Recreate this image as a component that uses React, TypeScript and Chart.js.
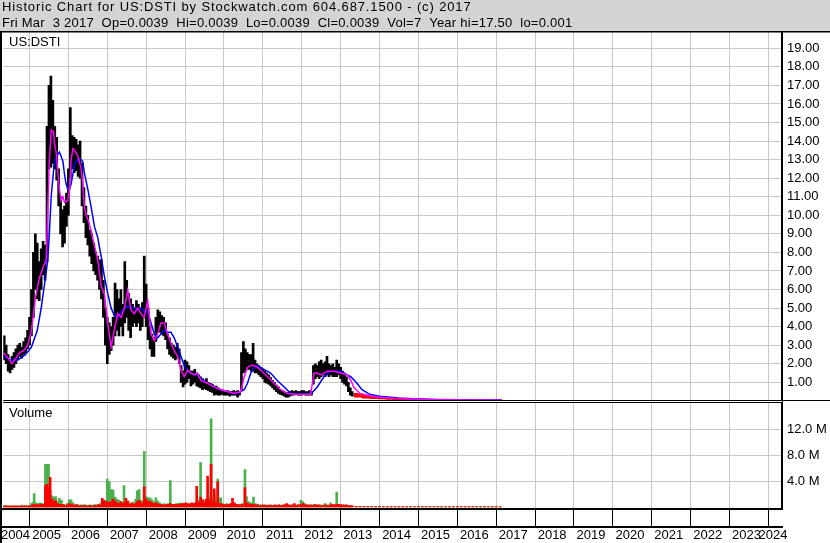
import React, { useEffect, useRef } from "react";
import { Chart, registerables } from "chart.js";

Chart.register(...registerables);

// ---------- text ----------
const headerLines = [
  "Historic Chart for US:DSTI by Stockwatch.com 604.687.1500 - (c) 2017",
  "Fri Mar  3 2017  Op=0.0039  Hi=0.0039  Lo=0.0039  Cl=0.0039  Vol=7  Year hi=17.50  lo=0.001",
];
const priceLabel = "US:DSTI";
const volumeLabel = "Volume";

// ---------- axes ----------
const xMin = 2004.325;
const xMax = 2024.351;
const yearTicks = [2005, 2006, 2007, 2008, 2009, 2010, 2011, 2012, 2013, 2014, 2015, 2016, 2017, 2018, 2019, 2020, 2021, 2022, 2023, 2024];
const yearLabels = ["2004", "2005", "2006", "2007", "2008", "2009", "2010", "2011", "2012", "2013", "2014", "2015", "2016", "2017", "2018", "2019", "2020", "2021", "2022", "2023", "2024"];
const yearLabelAt = [2004.64, 2005.44, 2006.44, 2007.44, 2008.44, 2009.44, 2010.44, 2011.44, 2012.44, 2013.44, 2014.44, 2015.44, 2016.44, 2017.44, 2018.44, 2019.44, 2020.44, 2021.44, 2022.44, 2023.44, 2024.12];
const priceTicks = [1, 2, 3, 4, 5, 6, 7, 8, 9, 10, 11, 12, 13, 14, 15, 16, 17, 18, 19];
const volumeTicks = [4, 8, 12]; // millions

// ---------- price bars (sampled every 0.05 yr from 2004.35) ----------
const priceStart = 2004.35;
const priceStep = 0.05;
const priceLow = [
  // 2004.35 - 2004.95
  2.2, 2.0, 1.6, 1.5, 1.7, 1.8, 2.0, 2.2, 2.4, 2.3, 2.5, 2.6, 2.8,
  // 2005
  3.0, 3.5, 4.5, 6.0, 5.5, 5.4, 6.0, 6.8, 6.5, 7.5, 12.5, 12.6, 12.8, 12.5, 11.9, 10.5, 9.0, 8.3, 8.5, 9.4,
  // 2006
  10.0, 12.0, 12.5, 12.3, 12.4, 12.1, 12.0, 10.5, 9.6, 8.8, 8.4, 7.8, 7.4, 7.0, 6.8, 6.5, 6.0, 5.5, 4.5, 3.0,
  // 2007
  2.0, 2.5, 2.7, 3.0, 3.5, 3.8, 3.5, 4.0, 3.5, 4.2, 4.5, 3.8, 3.4, 4.0, 4.2, 4.0, 4.2, 3.8, 4.0, 4.5,
  // 2008
  4.0, 3.3, 2.8, 2.4, 2.4, 3.2, 3.7, 3.7, 3.6, 3.5, 3.3, 2.8, 2.5, 2.4, 2.3, 2.2, 2.3, 2.0, 1.0, 0.75,
  // 2009
  0.9, 1.0, 1.2, 0.8, 0.9, 1.0, 0.8, 0.75, 0.7, 0.6, 0.65, 0.6, 0.55, 0.5, 0.45, 0.3, 0.35, 0.3, 0.3, 0.35,
  // 2010
  0.3, 0.3, 0.3, 0.25, 0.3, 0.3, 0.3, 0.2, 0.3, 0.6, 1.5, 1.6, 1.7, 1.7, 1.6, 1.6, 1.5, 1.5, 1.4, 1.3,
  // 2011
  1.2, 1.0, 0.95, 0.9, 0.8, 0.7, 0.6, 0.5, 0.4, 0.35, 0.3, 0.25, 0.2, 0.2, 0.25, 0.3, 0.3, 0.35, 0.3, 0.3,
  // 2012
  0.3, 0.35, 0.3, 0.3, 0.3, 0.3, 0.9, 1.2, 1.3, 1.2, 1.3, 1.4, 1.3, 1.4, 1.3, 1.4, 1.3, 1.3, 1.3, 1.4,
  // 2013.00 - 2013.30
  1.2, 1.0, 0.9, 0.8, 0.5, 0.3, 0.25,
];
const priceHigh = [
  3.5, 3.0, 2.5, 2.2, 2.4, 2.6, 2.8, 3.0, 3.1, 2.9, 3.2, 3.4, 3.8,
  4.5, 6.0, 8.0, 9.0, 8.5, 7.5, 8.2, 8.6, 8.4, 14.8, 17.0, 17.5, 16.2, 14.8, 14.2, 12.5, 11.0, 10.3, 10.5, 11.2,
  12.5, 15.8, 14.3, 14.2, 14.1, 13.8, 14.0, 12.8, 11.5, 10.5, 10.0, 9.2, 9.0, 8.5, 8.0, 7.8, 7.6, 7.6, 6.5, 5.0,
  4.5, 4.2, 4.0, 4.5, 6.35, 6.0, 5.5, 6.0, 5.2, 7.5, 6.5, 5.8, 5.5, 5.2, 5.0, 5.4, 5.2, 5.0, 5.3, 7.8,
  6.3, 5.0, 4.0, 3.6, 3.4, 4.5, 4.9, 4.8, 4.6, 4.5, 4.2, 3.6, 3.4, 3.1, 3.0, 2.9, 3.1, 2.8, 1.9, 1.6,
  2.2, 2.1, 1.9, 1.6, 1.6, 1.7, 1.5, 1.4, 1.3, 1.2, 1.1, 1.2, 1.0, 0.95, 0.9, 0.8, 0.8, 0.7, 0.6, 0.55,
  0.55, 0.5, 0.55, 0.5, 0.5, 0.55, 0.5, 0.55, 0.5, 2.6, 3.2, 2.8, 2.6, 2.5, 2.5, 3.1, 2.2, 2.0, 1.9, 1.8,
  1.7, 1.6, 1.5, 1.4, 1.25, 1.1, 1.0, 0.85, 0.75, 0.6, 0.55, 0.5, 0.45, 0.45, 0.5, 0.55, 0.5, 0.55, 0.5, 0.5,
  0.55, 0.55, 0.5, 0.5, 0.55, 0.5, 1.9, 2.0, 1.9, 2.1, 2.2, 2.0, 2.1, 2.4, 2.0, 1.9, 2.0, 1.8, 2.2, 2.0,
  1.8, 1.6, 1.5, 1.3, 1.0, 0.7, 0.5,
];

// ---------- price tail (sampled every 0.1 yr from 2013.4) ----------
const tailStart = 2013.4;
const tailStep = 0.1;
const tailLow = [
  0.2, 0.2, 0.15, 0.15, 0.12, 0.12, 0.1, 0.1, 0.08, 0.08,
  0.07, 0.06, 0.06, 0.05, 0.05, 0.05, 0.04, 0.04, 0.04, 0.03,
  0.03, 0.03, 0.03, 0.02, 0.02, 0.02, 0.02, 0.02, 0.01, 0.01,
  0.01, 0.01, 0.01, 0.01, 0.005, 0.005, 0.003, 0.003,
];
const tailHigh = [
  0.4, 0.35, 0.35, 0.3, 0.28, 0.25, 0.22, 0.2, 0.18, 0.16,
  0.15, 0.14, 0.12, 0.12, 0.11, 0.1, 0.1, 0.09, 0.09, 0.08,
  0.08, 0.08, 0.07, 0.07, 0.07, 0.06, 0.06, 0.06, 0.06, 0.05,
  0.05, 0.05, 0.05, 0.04, 0.04, 0.04, 0.04, 0.04,
];

// ---------- moving averages ----------
const maShortYears = [
  2004.33, 2004.45, 2004.55, 2004.65, 2004.75, 2004.85, 2004.95, 2005.05, 2005.15, 2005.25, 2005.35, 2005.43,
  2005.51, 2005.56, 2005.62, 2005.64, 2005.685, 2005.73, 2005.77, 2005.81, 2005.86, 2005.9, 2005.985,
  2006.03, 2006.07, 2006.115, 2006.16, 2006.24, 2006.33, 2006.37, 2006.41, 2006.455, 2006.5, 2006.58, 2006.63,
  2006.71, 2006.755, 2006.84, 2006.926, 2007.01, 2007.098, 2007.18, 2007.27, 2007.354, 2007.44, 2007.526,
  2007.61, 2007.696, 2007.78, 2007.868, 2007.95, 2008.04, 2008.124, 2008.21, 2008.295, 2008.38, 2008.466,
  2008.55, 2008.637, 2008.72, 2008.81, 2008.894, 2008.98, 2009.066, 2009.15, 2009.237, 2009.32, 2009.408,
  2009.58, 2009.75, 2009.92, 2010.09, 2010.26, 2010.434, 2010.52, 2010.605, 2010.69, 2010.776, 2010.86,
  2010.95, 2011.12, 2011.29, 2011.46, 2011.63, 2011.8, 2011.975, 2012.23, 2012.315, 2012.4, 2012.487,
  2012.66, 2012.83, 2013.0, 2013.17, 2013.26, 2013.35, 2013.5, 2013.7, 2014.0, 2014.5, 2015.0, 2015.5,
  2016.0, 2016.5, 2017.15,
];
const maShortValues = [
  2.6, 2.3, 2.0, 2.3, 2.6, 2.7, 3.0, 3.8, 5.5, 6.6, 7.2, 7.6,
  13.0, 14.6, 14.5, 13.9, 13.4, 12.3, 11.4, 10.8, 11.0, 10.7, 10.8,
  11.4, 13.0, 13.6, 13.5, 13.2, 12.5, 11.7, 10.5, 10.0, 9.8, 9.2, 8.7,
  8.0, 7.6, 6.2, 5.75, 4.2, 2.9, 3.8, 4.7, 4.5, 5.0, 5.96,
  4.9, 4.7, 5.0, 4.7, 4.5, 5.4, 3.6, 3.25, 3.6, 4.2, 4.2,
  3.6, 3.1, 2.7, 2.4, 1.65, 1.3, 1.65, 1.5, 1.4, 1.5, 1.1,
  0.95, 0.75, 0.6, 0.5, 0.4, 0.5, 1.3, 1.8, 1.9, 1.9, 1.8,
  1.65, 1.3, 0.95, 0.6, 0.4, 0.35, 0.35, 0.35, 1.5, 1.5, 1.4,
  1.6, 1.6, 1.5, 1.4, 1.1, 0.7, 0.4, 0.3, 0.2, 0.12, 0.08, 0.06,
  0.05, 0.04, 0.03,
];
const maLongYears = [
  2004.33, 2004.5, 2004.7, 2004.9, 2005.05, 2005.2, 2005.3, 2005.4, 2005.47, 2005.51, 2005.557, 2005.6,
  2005.64, 2005.73, 2005.77, 2005.81, 2005.86, 2005.9, 2005.94, 2005.985, 2006.03, 2006.07, 2006.115,
  2006.16, 2006.24, 2006.33, 2006.37, 2006.41, 2006.5, 2006.58, 2006.67, 2006.755, 2006.84, 2006.926,
  2007.01, 2007.098, 2007.18, 2007.27, 2007.354, 2007.44, 2007.526, 2007.61, 2007.696, 2007.78, 2007.868,
  2007.95, 2008.04, 2008.124, 2008.21, 2008.295, 2008.38, 2008.466, 2008.55, 2008.637, 2008.72, 2008.81,
  2008.894, 2008.98, 2009.066, 2009.15, 2009.237, 2009.32, 2009.408, 2009.58, 2009.75, 2009.92, 2010.09,
  2010.34, 2010.52, 2010.605, 2010.69, 2010.776, 2010.86, 2011.03, 2011.2, 2011.37, 2011.55, 2011.72,
  2011.89, 2012.23, 2012.4, 2012.57, 2012.74, 2013.0, 2013.17, 2013.26, 2013.4, 2013.55, 2013.75, 2014.0,
  2014.5, 2015.0, 2015.5, 2016.0, 2016.5, 2017.15,
];
const maLongValues = [
  2.4, 2.2, 2.2, 2.5, 2.9, 3.8, 5.0, 6.5, 7.6, 9.0, 11.0, 12.0,
  12.9, 13.3, 13.4, 13.2, 12.9, 12.2, 11.7, 11.4, 11.4, 11.7, 12.2,
  12.8, 13.0, 13.0, 12.9, 12.3, 11.4, 10.5, 9.4, 8.8, 7.8, 6.7,
  5.8, 5.0, 4.6, 4.5, 4.8, 5.0, 5.1, 5.0, 5.0, 4.95, 5.0,
  4.8, 4.8, 4.2, 3.6, 3.4, 3.6, 3.8, 3.7, 3.7, 3.4, 2.9,
  2.4, 1.9, 1.65, 1.5, 1.4, 1.4, 1.2, 0.95, 0.75, 0.6, 0.5,
  0.4, 0.6, 0.95, 1.5, 1.8, 1.9, 1.7, 1.5, 1.1, 0.75, 0.4,
  0.35, 0.35, 0.75, 1.3, 1.6, 1.6, 1.4, 1.3, 1.0, 0.6, 0.35, 0.25,
  0.15, 0.1, 0.07, 0.06, 0.05, 0.04,
];

// ---------- volume (millions of shares) ----------
const volYears = [
  2004.35, 2004.4, 2004.45, 2004.5, 2004.55, 2004.6, 2004.65, 2004.7, 2004.75, 2004.8, 2004.85, 2004.9, 2004.95,
  2005.0, 2005.05, 2005.09, 2005.12, 2005.17, 2005.22, 2005.27, 2005.32, 2005.37, 2005.41, 2005.45, 2005.49,
  2005.53, 2005.575, 2005.62, 2005.67, 2005.72, 2005.77, 2005.82, 2005.87, 2005.92, 2005.97,
  2006.02, 2006.07, 2006.12, 2006.17, 2006.22, 2006.27, 2006.32, 2006.37, 2006.42, 2006.47, 2006.52, 2006.57,
  2006.62, 2006.67, 2006.72, 2006.77, 2006.82, 2006.87, 2006.92, 2006.97,
  2007.0, 2007.05, 2007.1, 2007.15, 2007.2, 2007.25, 2007.3, 2007.35, 2007.4, 2007.43, 2007.48, 2007.53,
  2007.58, 2007.63, 2007.68, 2007.73, 2007.77, 2007.82, 2007.87, 2007.91, 2007.95,
  2008.0, 2008.05, 2008.1, 2008.15, 2008.2, 2008.25, 2008.3, 2008.35, 2008.4, 2008.45, 2008.5, 2008.55,
  2008.62, 2008.67, 2008.72, 2008.77, 2008.82, 2008.87, 2008.92, 2008.97,
  2009.02, 2009.07, 2009.12, 2009.17, 2009.22, 2009.26, 2009.3, 2009.35, 2009.4, 2009.45, 2009.5, 2009.54,
  2009.58, 2009.63, 2009.67, 2009.71, 2009.75, 2009.79, 2009.84, 2009.88, 2009.92, 2009.97,
  2010.02, 2010.07, 2010.12, 2010.17, 2010.22, 2010.27, 2010.32, 2010.37, 2010.42, 2010.47, 2010.54, 2010.58,
  2010.63, 2010.68, 2010.72, 2010.76, 2010.81, 2010.86, 2010.91, 2010.96,
  2011.01, 2011.06, 2011.11, 2011.16, 2011.21, 2011.26, 2011.31, 2011.36, 2011.41, 2011.46, 2011.51, 2011.56,
  2011.61, 2011.66, 2011.71, 2011.76, 2011.81, 2011.86, 2011.91, 2011.98,
  2012.03, 2012.08, 2012.13, 2012.18, 2012.23, 2012.28, 2012.33, 2012.38, 2012.43, 2012.48, 2012.53, 2012.6,
  2012.65, 2012.7, 2012.74, 2012.8, 2012.85, 2012.9, 2012.95,
  2013.0, 2013.05, 2013.1, 2013.15, 2013.2, 2013.25, 2013.3,
];
const volUp = [
  0.2, 0.1, 0.15, 0.1, 0.15, 0.1, 0.1, 0.15, 0.1, 0.25, 0.1, 0.2, 0.15,
  0.2, 0.5, 0.7, 2.05, 0.6, 0.5, 0.6, 0.55, 0.5, 6.6, 6.6, 6.6,
  2.5, 1.7, 1.5, 1.6, 0.8, 1.3, 1.0, 0.4, 0.3, 0.5,
  1.1, 1.1, 0.6, 0.3, 0.4, 0.2, 0.3, 0.25, 0.35, 0.2, 0.25, 0.3,
  0.2, 0.35, 0.3, 0.4, 0.5, 0.6, 0.8, 1.0,
  4.3, 3.9, 2.7, 2.6, 1.5, 1.2, 1.0, 0.6, 0.7, 3.3, 0.6, 0.8,
  0.5, 0.5, 0.7, 1.2, 2.5, 2.7, 1.0, 0.8, 8.65,
  1.6, 1.4, 1.4, 1.1, 0.8, 1.4, 0.9, 0.6, 0.4, 0.5, 0.4, 0.5,
  4.1, 0.4, 0.3, 0.5, 0.5, 0.6, 0.5, 0.4,
  0.3, 0.4, 0.5, 0.4, 0.3, 0.4, 0.8, 1.0, 6.9, 1.2, 0.8, 1.0,
  1.2, 1.5, 13.7, 1.2, 2.0, 1.0, 4.3, 1.3, 1.4, 0.5,
  0.4, 0.5, 0.3, 0.4, 0.5, 0.4, 0.3, 0.4, 0.3, 0.5, 5.8, 1.6,
  0.8, 0.6, 0.6, 1.5, 0.5, 0.4, 0.3, 0.3,
  0.2, 0.3, 0.25, 0.2, 0.3, 0.2, 0.3, 0.2, 0.25, 0.2, 0.3, 0.2,
  0.25, 0.2, 0.3, 0.2, 0.3, 0.2, 0.3, 1.0,
  0.8, 0.5, 0.3, 0.3, 0.2, 0.3, 0.4, 0.3, 0.2, 0.3, 0.25, 0.5,
  0.3, 0.25, 0.6, 0.3, 0.2, 2.3, 0.3,
  0.3, 0.2, 0.3, 0.2, 0.2, 0.15, 0.15,
];
const volDown = [
  0.1, 0.15, 0.1, 0.1, 0.1, 0.15, 0.1, 0.1, 0.1, 0.1, 0.15, 0.1, 0.1,
  0.15, 0.2, 0.3, 0.4, 0.3, 0.35, 0.3, 0.4, 0.3, 3.3, 3.5, 3.0,
  4.6, 1.2, 0.8, 1.0, 0.5, 0.4, 0.4, 0.3, 0.2, 0.3,
  0.5, 0.4, 0.3, 0.25, 0.3, 0.15, 0.2, 0.15, 0.2, 0.1, 0.2, 0.15,
  0.15, 0.2, 0.2, 0.3, 0.3, 1.3, 1.0, 0.6,
  0.8, 0.7, 0.8, 1.2, 0.9, 0.6, 0.5, 0.8, 0.5, 0.6, 1.3, 0.9,
  0.4, 0.6, 0.4, 0.5, 0.8, 1.0, 0.6, 0.5, 3.1,
  1.2, 0.8, 0.9, 0.6, 0.5, 0.6, 0.5, 0.4, 0.3, 0.3, 0.3, 0.4,
  0.5, 0.3, 0.4, 0.3, 0.4, 0.4, 0.5, 0.5,
  0.6, 0.5, 0.4, 0.6, 0.5, 0.6, 3.2, 0.7, 1.5, 1.0, 0.6, 1.2,
  4.8, 1.0, 6.6, 0.8, 2.8, 0.6, 3.9, 0.5, 0.5, 0.4,
  0.3, 0.3, 0.4, 0.5, 1.3, 0.6, 0.4, 0.3, 0.3, 0.4, 3.0, 0.6,
  0.5, 0.4, 0.4, 0.4, 0.3, 0.3, 0.2, 0.2,
  0.3, 0.2, 0.2, 0.25, 0.2, 0.2, 0.25, 0.2, 0.3, 0.2, 0.2, 0.35,
  0.5, 0.3, 0.2, 0.3, 0.5, 0.2, 0.3, 0.4,
  0.5, 0.3, 0.3, 0.2, 0.3, 0.2, 0.3, 0.25, 0.3, 0.2, 0.2, 0.3,
  0.2, 0.2, 0.3, 0.4, 0.3, 0.4, 0.4,
  0.3, 0.3, 0.2, 0.3, 0.2, 0.2, 0.15,
];
// tail volume, same sampling as the price tail
const tailVolUp = [
  0.08, 0.06, 0.07, 0.05, 0.06, 0.05, 0.05, 0.04, 0.05, 0.04,
  0.05, 0.04, 0.04, 0.05, 0.04, 0.04, 0.03, 0.04, 0.03, 0.04,
  0.03, 0.03, 0.04, 0.03, 0.03, 0.03, 0.03, 0.03, 0.02, 0.03,
  0.02, 0.03, 0.02, 0.02, 0.03, 0.02, 0.02, 0.02,
];
const tailVolDown = [
  0.07, 0.08, 0.05, 0.06, 0.05, 0.06, 0.04, 0.05, 0.04, 0.05,
  0.04, 0.05, 0.04, 0.04, 0.05, 0.03, 0.04, 0.03, 0.04, 0.03,
  0.04, 0.03, 0.03, 0.04, 0.03, 0.03, 0.03, 0.02, 0.03, 0.02,
  0.03, 0.02, 0.02, 0.03, 0.02, 0.02, 0.02, 0.02,
];

// ---------- styles ----------
const FONT = '"Liberation Sans", Arial, sans-serif';
const GRID = "#c8c8c8";
const HEADER_BG = "#d4d4d4";
const GREEN = "#4cb04c";
const RED = "#ff0000";

const framePlugin = {
  id: "frame",
  beforeDraw(chart: any) {
    const { ctx, width, height } = chart;
    ctx.save();
    ctx.fillStyle = "#ffffff";
    ctx.fillRect(0, 0, width, height);
    ctx.fillStyle = HEADER_BG;
    ctx.fillRect(0, 0, width, 31);
    ctx.restore();
  },
  afterDraw(chart: any) {
    const { ctx, width, height, chartArea } = chart;
    const sep = chart.scales.yv.top;
    ctx.save();
    ctx.fillStyle = "#000";
    ctx.fillRect(0, 31, width, 1.5);
    ctx.fillRect(0, 31, 2, height - 31);
    ctx.fillStyle = "#fff";
    ctx.fillRect(chartArea.left, sep - 1, chartArea.right - chartArea.left, 1);
    ctx.fillStyle = "#000";
    ctx.fillRect(chartArea.left, sep - 2, chartArea.right - chartArea.left, 1);
    ctx.fillRect(chartArea.left, sep, chartArea.right - chartArea.left, 1);
    ctx.fillRect(chartArea.right, sep - 2, width - chartArea.right, 1);
    ctx.font = `13px ${FONT}`;
    ctx.textAlign = "left";
    ctx.textBaseline = "alphabetic";
    ctx.letterSpacing = "0.87px";
    ctx.fillText(headerLines[0], 2, 11);
    ctx.letterSpacing = "0.25px";
    ctx.fillText(headerLines[1], 2, 27);
    ctx.letterSpacing = "0px";
    ctx.fillText(priceLabel, 9, 46);
    ctx.fillText(volumeLabel, 9, 417);
    ctx.restore();
  },
};

export default function App() {
  const ref = useRef<HTMLCanvasElement>(null);
  useEffect(() => {
    const canvas = ref.current;
    if (!canvas) return;
    const priceBars = priceLow.map((lo, i) => ({ x: priceStart + i * priceStep, y: [lo, priceHigh[i]] }));
    const tailBars = tailLow.map((lo, i) => ({ x: tailStart + i * tailStep, y: [lo, tailHigh[i]] }));
    const maShort = maShortYears.map((x, i) => ({ x, y: maShortValues[i] }));
    const maLong = maLongYears.map((x, i) => ({ x, y: maLongValues[i] }));
    const upVol = volYears
      .map((x, i) => ({ x, y: volUp[i] }))
      .concat(tailVolUp.map((v, i) => ({ x: tailStart + i * tailStep, y: v })));
    const downVol = volYears
      .map((x, i) => ({ x, y: volDown[i] }))
      .concat(tailVolDown.map((v, i) => ({ x: tailStart + i * tailStep, y: v })));

    const tickFont = { family: FONT, size: 13 };
    const chart = new Chart(canvas, {
      type: "bar",
      data: {
        datasets: [
          { type: "line", label: "MA short", data: maShort, borderColor: "#ff00ff", borderWidth: 1.5, pointRadius: 0, tension: 0, xAxisID: "x", yAxisID: "y", order: 1 } as any,
          { type: "line", label: "MA long", data: maLong, borderColor: "#0000ff", borderWidth: 1.5, pointRadius: 0, tension: 0, xAxisID: "x", yAxisID: "y", order: 2 } as any,
          { type: "bar", label: "Price", data: priceBars, backgroundColor: "#000000", barThickness: 2, grouped: false, xAxisID: "x", yAxisID: "y", order: 3 } as any,
          { type: "bar", label: "Price tail", data: tailBars, backgroundColor: RED, barThickness: 4, grouped: false, xAxisID: "x", yAxisID: "y", order: 3 } as any,
          { type: "bar", label: "Down volume", data: downVol, backgroundColor: RED, barThickness: 2, grouped: false, xAxisID: "x", yAxisID: "yv", order: 4 } as any,
          { type: "bar", label: "Up volume", data: upVol, backgroundColor: GREEN, barThickness: 2, grouped: false, xAxisID: "x", yAxisID: "yv", order: 5 } as any,
        ],
      },
      options: {
        responsive: false,
        animation: false,
        devicePixelRatio: 1,
        layout: { padding: { left: 2, top: 32, right: 0, bottom: 0 } },
        plugins: { legend: { display: false }, tooltip: { enabled: false }, title: { display: false } },
        events: [],
        scales: {
          x: {
            type: "linear",
            position: "bottom",
            weight: 0,
            min: xMin,
            max: xMax,
            offset: false,
            grid: { color: GRID, lineWidth: 1, offset: false, drawTicks: true, tickLength: 18, tickColor: "#000", tickWidth: 1 },
            border: { display: true, color: "#000", width: 2 },
            ticks: { display: false },
            afterBuildTicks: (s: any) => {
              s.ticks = yearTicks.map((v) => ({ value: v }));
            },
            afterFit: (s: any) => {
              s.height = 18;
            },
          },
          x2: {
            type: "linear",
            position: "bottom",
            weight: 1,
            min: xMin,
            max: xMax,
            offset: false,
            grid: { display: false, drawTicks: false, offset: false },
            border: { display: true, color: "#000", width: 2 },
            ticks: {
              font: tickFont,
              color: "#000",
              padding: 1,
              autoSkip: false,
              maxRotation: 0,
              minRotation: 0,
              callback: (_v: any, i: number) => yearLabels[i],
            },
            afterBuildTicks: (s: any) => {
              s.ticks = yearLabelAt.map((v) => ({ value: v }));
            },
            afterFit: (s: any) => {
              s.height = 16;
            },
          },
          y: {
            type: "linear",
            position: "right",
            stack: "panels",
            stackWeight: 370,
            weight: 0,
            min: -0.062,
            max: 19.88,
            grid: { color: GRID, lineWidth: 1, drawTicks: false },
            border: { display: true, color: "#000", width: 2 },
            ticks: { font: tickFont, color: "#000", padding: 5, autoSkip: false, callback: (v: any) => Number(v).toFixed(2) },
            afterBuildTicks: (s: any) => {
              s.ticks = priceTicks.map((v) => ({ value: v }));
            },
            afterFit: (s: any) => {
              s.width = 48;
            },
          },
          yv: {
            type: "linear",
            position: "right",
            stack: "panels",
            stackWeight: 107,
            weight: 1,
            min: -0.343,
            max: 16.32,
            grid: { color: GRID, lineWidth: 1, drawTicks: false },
            border: { display: true, color: "#000", width: 2 },
            ticks: { font: tickFont, color: "#000", padding: 5, autoSkip: false, callback: (v: any) => `${Number(v).toFixed(1)} M` },
            afterBuildTicks: (s: any) => {
              s.ticks = volumeTicks.map((v) => ({ value: v }));
            },
            afterFit: (s: any) => {
              s.width = 48;
            },
          },
        },
      } as any,
      plugins: [framePlugin],
    });
    return () => chart.destroy();
  }, []);

  return (
    <div style={{ position: "fixed", left: 0, top: 0, width: 830, height: 543, background: "#fff" }}>
      <canvas ref={ref} width={830} height={543} style={{ display: "block" }} />
    </div>
  );
}
